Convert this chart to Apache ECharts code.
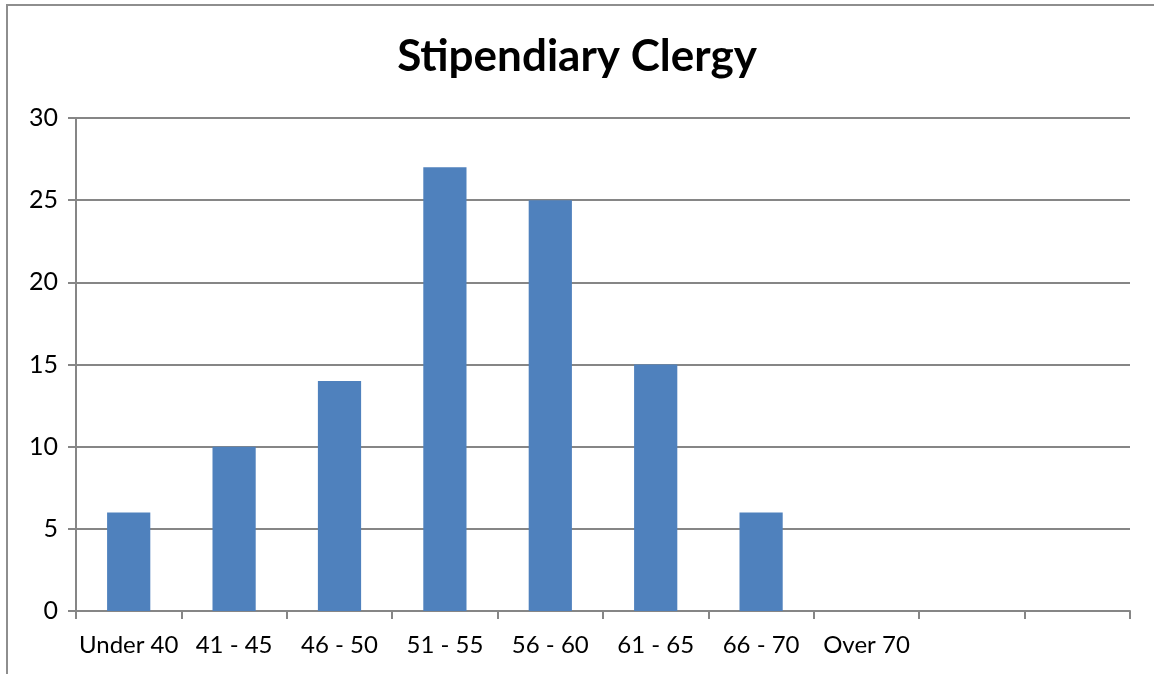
<!DOCTYPE html>
<html>
<head>
<meta charset="utf-8">
<title>Stipendiary Clergy</title>
<script src="https://cdn.jsdelivr.net/npm/echarts@6/dist/echarts.min.js"></script>
<style>
  html, body { margin: 0; padding: 0; background: #fff; overflow: hidden; }
  #chart { position: absolute; left: 0; top: 0; width: 1154px; height: 674px; }
  .frame {
    position: absolute; left: 6px; top: 4px; width: 1200px; height: 700px;
    border-left: 2px solid #8e8e8e; border-top: 2px solid #8e8e8e;
    pointer-events: none;
  }
</style>
</head>
<body>
<div id="chart"></div>
<div class="frame"></div>
<script>
// age bands (two trailing empty slots as in the original sheet)
const categories = ['Under 40', '41 - 45', '46 - 50', '51 - 55', '56 - 60', '61 - 65', '66 - 70', 'Over 70', '', '']
const counts = [6, 10, 14, 27, 25, 15, 6, 0, null, null]
const yTicks = { min: 0, max: 30, interval: 5 }

const font = 'Lato, "Open Sans", "Liberation Sans", sans-serif'
const gray = '#868686'

const chart = echarts.init(document.getElementById('chart'))

chart.setOption({
  animation: false,
  title: {
    text: 'Stipendiary Clergy',
    left: 'center',
    top: 30,
    textStyle: { fontFamily: font, fontSize: 44, fontWeight: 'bold', color: '#000' }
  },
  grid: { left: 76, right: 24, top: 118, bottom: 63, containLabel: false },
  xAxis: {
    type: 'category',
    data: categories,
    boundaryGap: true,
    axisLine: { show: true, lineStyle: { color: gray, width: 2 } },
    axisTick: { show: true, length: 8, alignWithLabel: false, interval: 0, lineStyle: { color: gray, width: 2 } },
    axisLabel: { interval: 0, margin: 22, fontFamily: font, fontSize: 24, color: '#000' },
    splitLine: { show: false }
  },
  yAxis: {
    type: 'value',
    min: yTicks.min,
    max: yTicks.max,
    interval: yTicks.interval,
    axisLine: { show: true, lineStyle: { color: gray, width: 2 } },
    axisTick: { show: true, length: 8, lineStyle: { color: gray, width: 2 } },
    axisLabel: { margin: 18, fontFamily: font, fontSize: 25, color: '#000' },
    splitLine: { show: true, lineStyle: { color: gray, width: 2 } }
  },
  series: [
    {
      name: 'Stipendiary Clergy',
      type: 'bar',
      data: counts,
      barWidth: '41%',
      itemStyle: { color: '#4F81BD' }
    }
  ]
})
</script>
</body>
</html>
